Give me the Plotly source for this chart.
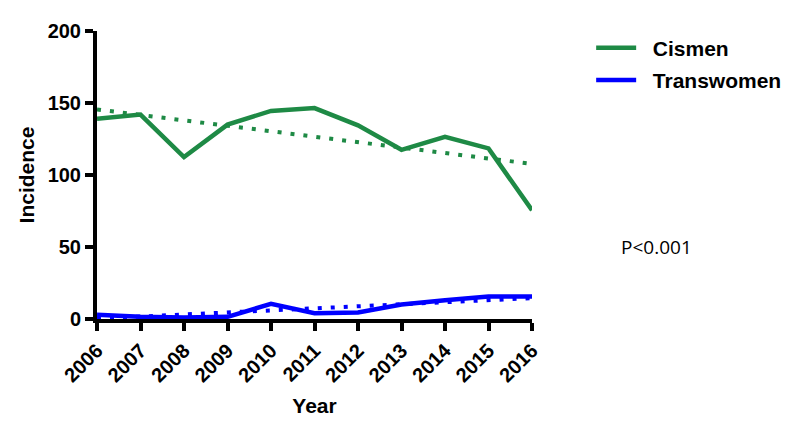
import plotly.graph_objects as go

years = [2006, 2007, 2008, 2009, 2010, 2011, 2012, 2013, 2014, 2015, 2016]
cismen = [139, 142, 112.5, 135, 144.5, 146.5, 134.5, 117.5, 126.5, 118.5, 75.5]
transwomen = [3, 1.5, 1, 1.5, 10.5, 4, 4.5, 10, 13, 15.7, 15.7]
trend_years = [2006, 2016]
cismen_trend = [145.5, 107.7]
transwomen_trend = [0.3, 14.5]

green = "#1e8a45"
blue = "#0000ff"

fig = go.Figure()
fig.add_trace(go.Scatter(x=trend_years, y=cismen_trend, mode="lines",
                         line=dict(color=green, width=4, dash="4px,9px"),
                         showlegend=False, hoverinfo="skip"))
fig.add_trace(go.Scatter(x=trend_years, y=transwomen_trend, mode="lines",
                         line=dict(color=blue, width=4, dash="4px,9px"),
                         showlegend=False, hoverinfo="skip"))
fig.add_trace(go.Scatter(x=years, y=cismen, mode="lines", name="\u00a0\u00a0Cismen",
                         line=dict(color=green, width=4.5), legendgroup="a"))
fig.add_trace(go.Scatter(x=years, y=transwomen, mode="lines", name="\u00a0\u00a0Transwomen",
                         line=dict(color=blue, width=4.5), legendgroup="b"))

fam = "Liberation Sans"

fig.update_layout(
    width=800, height=428,
    margin=dict(l=89, r=276, t=15, b=117),
    plot_bgcolor="white", paper_bgcolor="white",
    xaxis=dict(range=[2006, 2016], tickvals=years, ticktext=[str(y) for y in years],
               tickangle=-45, showgrid=False, zeroline=False,
               showline=True, linewidth=4, linecolor="black",
               ticks="outside", ticklen=8, tickwidth=4, tickcolor="black",
               tickfont=dict(family=fam, size=20, color="black", weight="bold"),
               title=dict(text="Year", font=dict(family=fam, size=21, color="black", weight="bold"),
                          standoff=14)),
    yaxis=dict(range=[0, 200], tickvals=[0, 50, 100, 150, 200], showgrid=False, zeroline=False,
               showline=True, linewidth=4, linecolor="black",
               ticks="outside", ticklen=8, tickwidth=4, tickcolor="black",
               tickfont=dict(family=fam, size=20, color="black", weight="bold"),
               title=dict(text="Incidence", font=dict(family=fam, size=21, color="black", weight="bold"),
                          standoff=8)),
    legend=dict(x=1.136, y=1.012, xanchor="left", yanchor="top",
                font=dict(family=fam, size=21, color="black", weight="bold"),
                tracegroupgap=2, itemwidth=40, bgcolor="rgba(0,0,0,0)"),
    annotations=[dict(text="P<0.001", x=1.287, y=0.25, xref="paper", yref="paper",
                      xanchor="center", yanchor="middle",
                      showarrow=False, font=dict(family="Open Sans", size=19, color="black"))],
)

fig.write_html("out.html")
